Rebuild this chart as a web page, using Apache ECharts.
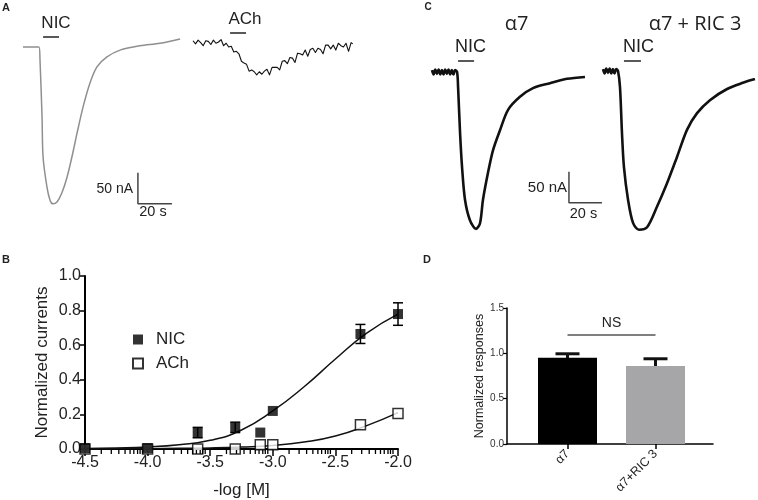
<!DOCTYPE html>
<html><head><meta charset="utf-8">
<script src="https://cdn.jsdelivr.net/npm/echarts@6/dist/echarts.min.js"></script>
<style>html,body{margin:0;padding:0;background:#fff}#c{width:758px;height:500px}</style>
</head><body><div id="c"></div>
<script>
// ---------- Panel A traces (time s, current nA) ----------
const nicA_t = [0, 9.4, 10.0, 11.2, 11.8, 14.1, 15.9, 17.6, 20.0, 22.9, 25.9, 28.8, 31.8, 35.3, 39.4, 43.5, 49.4, 57.1, 68.8, 80.6, 92.4];
const nicA_i = [0, 0, -21, -113, -177, -226, -247, -253, -250, -235, -210, -177, -139, -97, -58, -32, -16, -5, 2, 6, 13];
const achA_t = [0,1.5,3,4.5,6,7.5,9,10.5,12,13.5,15,16.5,18,19.5,21,22.5,24,25.5,27,28.5,30,31.5,33,34.5,36,37.5,39,40.5,42,43.5,45,46.5,48,49.5,51,52.5,54,55.5,57,58.5,60,61.5,63,64.5,66,67.5,69,70.5,72,73.5,75,76.5,78,79.5,81,82.5,84,85.5,87,88.5,90,91.5,93,94];
const achA_i = [2,-3,3,-1,-6,2,1,-4,3,-2,0,4,-6,-2,-8,-7,-16,-15,-19,-31,-34,-36,-47,-45,-48,-53,-48,-52,-47,-44,-53,-41,-41,-41,-45,-31,-30,-35,-25,-26,-33,-18,-19,-21,-13,-23,-12,-10,-17,-10,-12,-19,-5,-5,-11,-5,-13,-2,-6,-8,-2,-15,-1,-3];
const nicA_app = [11.8, 21.2], nicA_appLevel = 16;
const achA_app = [21.8, 31.2], achA_appLevel = 14.5;

// ---------- Panel C traces ----------
const c1_t = [0,1,2,3,4,5,6,7,8,9,10,11,12,13,14,15.2,15.8,17.0,18.2,20.0,23.0,26.7,29.1,30.9,33.9,37.0,41.2,46.1,53.3,61.2,71.5,81.8,92.7];
const c1_i = [3,-4,4,-3,4,-4,3,-4,4,-3,4,-4,3,-4,3,0,-24,-98,-153,-206,-239,-253,-244,-206,-163,-126,-94,-61,-40,-26,-18,-11,-8];
const c2_t = [0,1,2,3,4,5,6,7,8,9.1,10.3,11.5,12.7,15.2,18.2,21.8,26.7,32.7,38.8,44.8,50.9,57.0,64.8,75.2,84.8,92.1];
const c2_i = [3,-4,4,-3,4,-4,3,-4,3,0,-26,-100,-155,-208,-245,-256,-252,-219,-181,-139,-95,-68,-47,-29,-19,-13];
const c1_app = [15.8, 25.5], c1_appLevel = 17.7;
const c2_app = [12.7, 23.0], c2_appLevel = 16.1;

// scale bars: 20 s, 50 nA
const SB_S = 20, SB_NA = 50;
const sbA = [67.6, -253];
const sbC = [83.0, -211];

// ---------- Panel B: concentration-response ----------
const concX = [-4.5, -4.0, -3.6, -3.3, -3.1, -3.0, -2.3, -2.0];
const nicY = [0.005, 0.005, 0.095, 0.125, 0.095, 0.22, 0.665, 0.78];
const nicErr = [0, 0, 0.03, 0.03, 0, 0, 0.055, 0.065];
const achY = [0.0, 0.0, 0.0, 0.0, 0.025, 0.025, 0.14, 0.205];
const fitX = [-4.5, -4.25, -4.0, -3.75, -3.5, -3.25, -3.0, -2.75, -2.5, -2.25, -2.0];
const nicFit = [0.003, 0.006, 0.012, 0.025, 0.05, 0.11, 0.22, 0.36, 0.52, 0.67, 0.78];
const achFit = [0.0, 0.001, 0.002, 0.004, 0.006, 0.011, 0.02, 0.04, 0.075, 0.135, 0.21];
const minorOffsets = [0.13, 0.21, 0.27, 0.32, 0.36, 0.39, 0.42, 0.44, 0.46];

// ---------- Panel D: bars ----------
const dCats = ['α7', 'α7+RIC 3'];
const dVals = [0.95, 0.86];
const dErr = [0.045, 0.08];
const dColors = ['#000000', '#a6a6a8'];
const nsLevel = 1.2;

// ---------- helpers ----------
const zip = (a, b) => a.map((v, i) => [v, b[i]]);
function traceBox(x0, y0, sx, sy, left, top, w, h) {
  return {
    grid: {left, top, width: w, height: h},
    x: {min: (left - x0) / sx, max: (left + w - x0) / sx},
    y: {min: -(top + h - y0) / sy, max: (y0 - top) / sy}
  };
}
const boxes = [
  traceBox(23, 47, 1.7, 0.62, 10, 15, 180, 200),
  traceBox(193, 42, 1.7, 0.62, 185, 15, 175, 80),
  traceBox(432, 72, 1.65, 0.62, 420, 50, 190, 190),
  traceBox(603, 71, 1.65, 0.62, 595, 50, 160, 190)
];
const FONT = 'Liberation Sans, Arial, sans-serif';
const grids = boxes.map(b => b.grid).concat([
  {left: 85, top: 276, width: 313, height: 174},
  {left: 507, top: 308, width: 206, height: 136},
  {left: 523.5, top: 308, width: 176, height: 136}
]);
const hiddenX = boxes.map((b, i) => ({type: 'value', gridIndex: i, show: false, min: b.x.min, max: b.x.max}));
const hiddenY = boxes.map((b, i) => ({type: 'value', gridIndex: i, show: false, min: b.y.min, max: b.y.max}));

function traceLine(idx, data, color, width, smooth) {
  return {type: 'line', xAxisIndex: idx, yAxisIndex: idx, data, showSymbol: false, symbol: 'none',
    smooth: smooth, lineStyle: {color, width, join: 'round'}, silent: true, z: 2};
}
function appBar(idx, app, level) {
  return {type: 'line', xAxisIndex: idx, yAxisIndex: idx, data: [[app[0], level], [app[1], level]],
    symbol: 'none', lineStyle: {color: '#222', width: 1.5}, silent: true};
}
function scaleBar(idx, sb) {
  return {type: 'line', xAxisIndex: idx, yAxisIndex: idx, clip: false,
    data: [[sb[0], sb[1] + SB_NA], [sb[0], sb[1]], [sb[0] + SB_S, sb[1]]],
    symbol: 'none', lineStyle: {color: '#444', width: 1.5}, silent: true};
}
const minorTicks = [];
for (let m = -4.5; m < -2.0 - 1e-9; m += 0.5) minorOffsets.forEach(o => minorTicks.push([m + o, 0]));

const txt = (x, y, text, size, opts = {}) => ({type: 'text', x, y, silent: true, z: 100, style: Object.assign({
  text, fontSize: size, fontFamily: opts.family || FONT, fontWeight: opts.weight || 'normal',
  fill: opts.fill || '#222', align: opts.align || 'center', verticalAlign: 'middle'})});

const option = {
  animation: false,
  grid: grids,
  xAxis: hiddenX.concat([
    {type: 'value', gridIndex: 4, min: -4.5, max: -2.0, interval: 0.5,
      axisLine: {show: true, onZero: true, lineStyle: {color: '#000', width: 2}},
      axisTick: {show: true, length: 7, lineStyle: {color: '#000', width: 1.5}},
      axisLabel: {fontSize: 16, color: '#222', fontFamily: FONT, margin: 6, formatter: v => v.toFixed(1)},
      splitLine: {show: false},
      name: '-log [M]', nameLocation: 'middle', nameGap: 33,
      nameTextStyle: {fontSize: 17, color: '#222', fontFamily: FONT}},
    {type: 'value', gridIndex: 5, min: 0, max: 1,
      axisLine: {show: true, lineStyle: {color: '#000', width: 1.5}},
      axisTick: {show: false}, axisLabel: {show: false}, splitLine: {show: false}},
    {type: 'category', gridIndex: 6, data: dCats,
      axisLine: {show: false},
      axisTick: {show: true, alignWithLabel: true, length: 5, lineStyle: {color: '#000', width: 1.5}},
      axisLabel: {rotate: 45, fontSize: 12.5, color: '#222', fontFamily: FONT, margin: 8}}
  ]),
  yAxis: hiddenY.concat([
    {type: 'value', gridIndex: 4, min: 0, max: 1, interval: 0.2,
      axisLine: {show: true, lineStyle: {color: '#000', width: 2}},
      axisTick: {show: true, length: 5, lineStyle: {color: '#000', width: 1.5}},
      axisLabel: {fontSize: 16, color: '#222', fontFamily: FONT, margin: 4, formatter: v => v.toFixed(1)},
      splitLine: {show: false},
      name: 'Normalized currents', nameLocation: 'middle', nameGap: 34,
      nameTextStyle: {fontSize: 17, color: '#222', fontFamily: FONT}},
    {type: 'value', gridIndex: 5, min: 0, max: 1.5, interval: 0.5,
      axisLine: {show: true, lineStyle: {color: '#000', width: 1.5}},
      axisTick: {show: true, length: 4, lineStyle: {color: '#000', width: 1.2}},
      axisLabel: {fontSize: 10, color: '#333', fontFamily: FONT, margin: 3, formatter: v => v.toFixed(1)},
      splitLine: {show: false},
      name: 'Normalized responses', nameLocation: 'middle', nameGap: 20,
      nameTextStyle: {fontSize: 12.5, color: '#222', fontFamily: FONT}},
    {type: 'value', gridIndex: 6, min: 0, max: 1.5, show: false}
  ]),
  legend: {data: ['NIC', 'ACh'], orient: 'vertical', left: 127, top: 326, itemWidth: 10, itemHeight: 10, itemGap: 7,
    textStyle: {fontSize: 17, color: '#222', fontFamily: FONT, padding: [0, 0, 0, 8]}},
  series: [
    traceLine(0, zip(nicA_t, nicA_i), '#8f8f8f', 1.5, 0.3),
    traceLine(1, zip(achA_t, achA_i), '#111', 1.1, false),
    traceLine(2, zip(c1_t, c1_i), '#111', 2.6, 0.3),
    traceLine(3, zip(c2_t, c2_i), '#111', 2.6, 0.3),
    appBar(0, nicA_app, nicA_appLevel), appBar(1, achA_app, achA_appLevel),
    appBar(2, c1_app, c1_appLevel), appBar(3, c2_app, c2_appLevel),
    scaleBar(0, sbA), scaleBar(2, sbC),
    // Panel B
    {type: 'custom', xAxisIndex: 4, yAxisIndex: 4, data: minorTicks, silent: true, clip: false, z: 10,
      renderItem: (p, api) => { const c = api.coord([api.value(0), api.value(1)]);
        return {type: 'line', shape: {x1: c[0], y1: c[1] + 1, x2: c[0], y2: c[1] + 5}, style: {stroke: '#000', lineWidth: 1.3}}; }},
    {type: 'line', name: 'nicFit', xAxisIndex: 4, yAxisIndex: 4, data: zip(fitX, nicFit), smooth: true, symbol: 'none',
      lineStyle: {color: '#111', width: 1.5}, silent: true},
    {type: 'line', name: 'achFit', xAxisIndex: 4, yAxisIndex: 4, data: zip(fitX, achFit), smooth: true, symbol: 'none',
      lineStyle: {color: '#111', width: 1.5}, silent: true},
    {type: 'custom', xAxisIndex: 4, yAxisIndex: 4, silent: true,
      data: concX.map((x, i) => [x, nicY[i], nicErr[i]]).filter(d => d[2] > 0),
      renderItem: (p, api) => { const x = api.value(0), y = api.value(1), e = api.value(2);
        const a = api.coord([x, y + e]), b = api.coord([x, y - e]); const hw = 5, st = {stroke: '#000', lineWidth: 1.5};
        return {type: 'group', children: [
          {type: 'line', shape: {x1: a[0], y1: a[1], x2: b[0], y2: b[1]}, style: st},
          {type: 'line', shape: {x1: a[0] - hw, y1: a[1], x2: a[0] + hw, y2: a[1]}, style: st},
          {type: 'line', shape: {x1: b[0] - hw, y1: b[1], x2: b[0] + hw, y2: b[1]}, style: st}]}; }},
    {type: 'scatter', name: 'ACh', xAxisIndex: 4, yAxisIndex: 4, data: zip(concX, achY), symbol: 'rect', symbolSize: 10,
      itemStyle: {color: '#fff', borderColor: '#000', borderWidth: 1.5}, z: 4},
    {type: 'scatter', name: 'NIC', xAxisIndex: 4, yAxisIndex: 4, data: zip(concX, nicY), symbol: 'rect', symbolSize: 10,
      itemStyle: {color: '#000'}, z: 5},
    // Panel D
    {type: 'bar', xAxisIndex: 6, yAxisIndex: 6, barWidth: 59, silent: true,
      data: dVals.map((v, i) => ({value: v, itemStyle: {color: dColors[i]}})),
      markLine: {symbol: 'none', silent: true, lineStyle: {color: '#555', width: 1.5, type: 'solid'},
        label: {show: true, position: 'middle', formatter: 'NS', fontSize: 14, color: '#222', fontFamily: FONT},
        data: [[{coord: [0, nsLevel]}, {coord: [1, nsLevel]}]]}},
    {type: 'custom', xAxisIndex: 6, yAxisIndex: 6, silent: true,
      data: dVals.map((v, i) => [i, v, dErr[i]]),
      renderItem: (p, api) => { const x = api.value(0), v = api.value(1), e = api.value(2);
        const a = api.coord([x, v - 0.01]), b = api.coord([x, v + e]); const hw = 12, st = {stroke: '#111', lineWidth: 3};
        return {type: 'group', children: [
          {type: 'line', shape: {x1: a[0], y1: a[1], x2: b[0], y2: b[1]}, style: st},
          {type: 'line', shape: {x1: b[0] - hw, y1: b[1], x2: b[0] + hw, y2: b[1]}, style: st}]}; }}
  ],
  graphic: [
    txt(6, 8, 'A', 11, {weight: 'bold'}),
    txt(56, 23.5, 'NIC', 17),
    txt(245, 19.5, 'ACh', 17),
    txt(133, 189, '50 nA', 14, {align: 'right'}),
    txt(153, 212, '20 s', 14.5),
    txt(6, 260, 'B', 11, {weight: 'bold'}),
    txt(428, 7, 'C', 10, {weight: 'bold'}),
    txt(516.5, 24, 'α7', 20, {family: 'Open Sans, sans-serif'}),
    txt(695, 24, 'α7 + RIC 3', 20, {family: 'Open Sans, sans-serif'}),
    txt(470.5, 47, 'NIC', 18),
    txt(638.5, 47, 'NIC', 18),
    txt(567, 188, '50 nA', 15, {align: 'right'}),
    txt(583.5, 214, '20 s', 14.5),
    txt(427, 260, 'D', 11, {weight: 'bold'})
  ]
};
const chart = echarts.init(document.getElementById('c'), null, {renderer: 'canvas'});
chart.setOption(option);
</script></body></html>
